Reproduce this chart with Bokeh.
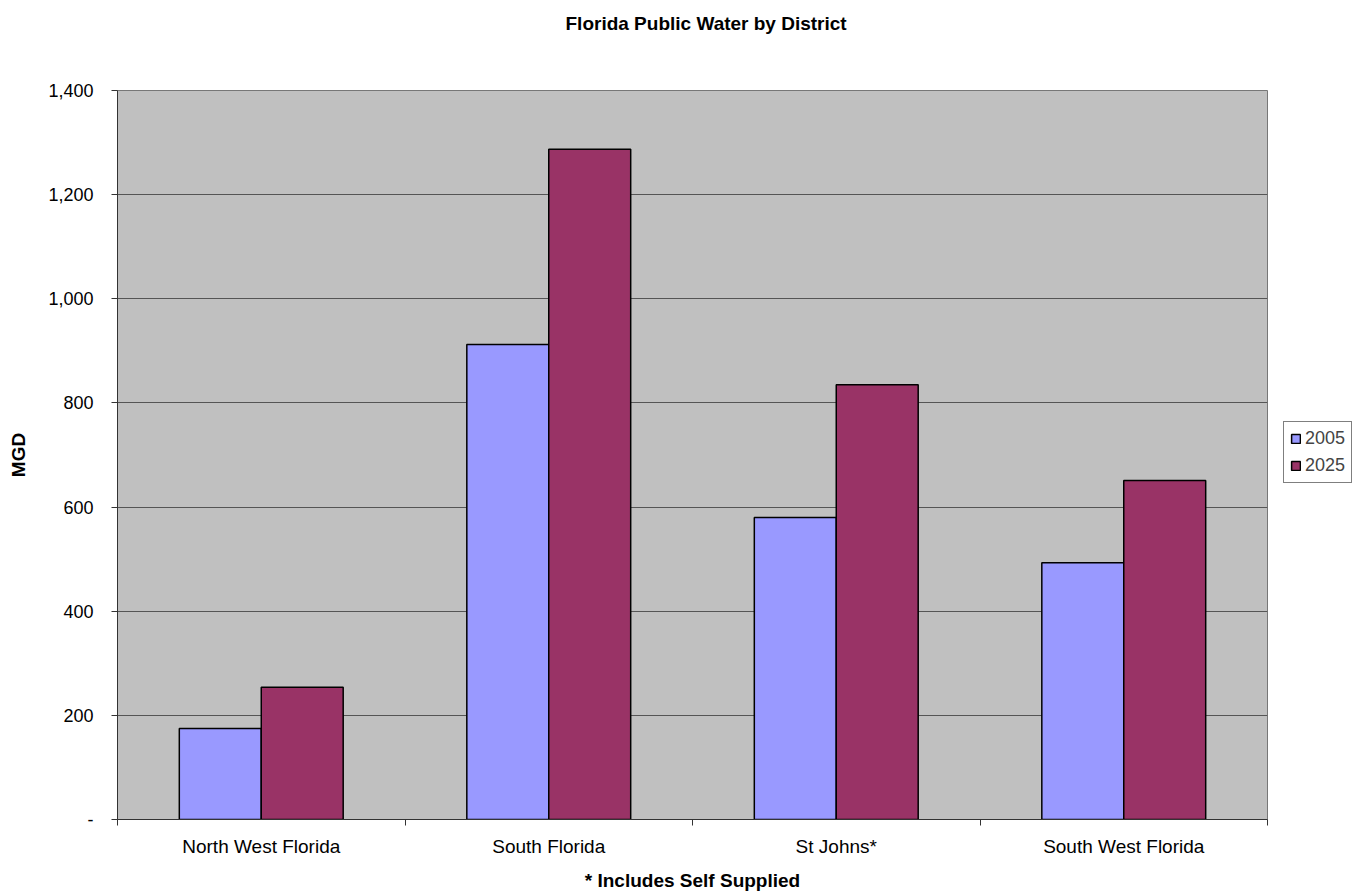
from bokeh.plotting import figure
from bokeh.models import ColumnDataSource, FixedTicker, Legend, LegendItem, Range1d, Title
from bokeh.embed import file_html
from bokeh.resources import INLINE

districts = ["North West Florida", "South Florida", "St Johns*", "South West Florida"]
years = ["2005", "2025"]
values_2005 = [175, 912, 580, 493]
values_2025 = [254, 1287, 835, 651]
y_ticks = [0, 200, 400, 600, 800, 1000, 1200, 1400]
colors = ["#9999FF", "#993366"]

FONT = "Liberation Sans"
FS = "19px"
FS_TICK = "18px"

idx = list(range(len(districts)))
src = ColumnDataSource(dict(
    x05=[i + 0.5 - 0.1425 for i in idx],
    x25=[i + 0.5 + 0.1425 for i in idx],
    v05=values_2005,
    v25=values_2025,
))

p = figure(frame_width=1150, frame_height=729, output_backend="svg", toolbar_location=None,
           x_range=Range1d(0, len(districts)), y_range=Range1d(0, 1400),
           min_border_left=117, min_border_right=99, min_border_top=90, min_border_bottom=75)
p.border_fill_color = "white"

spacer = Title(text=" ", text_font_size="10px", standoff=40)
main_title = Title(text="Florida Public Water by District", align="left", offset=448,
                   text_font=FONT, text_font_style="bold", text_font_size=FS,
                   text_color="black", standoff=8)
p.add_layout(spacer, "above")
p.add_layout(main_title, "above")

r05 = p.vbar(x="x05", top="v05", width=0.285, source=src, fill_color=colors[0],
             line_color="black", line_width=1.5)
r25 = p.vbar(x="x25", top="v25", width=0.285, source=src, fill_color=colors[1],
             line_color="black", line_width=1.5)

# y axis
p.yaxis.ticker = FixedTicker(ticks=y_ticks)
p.yaxis.major_label_overrides = {t: ("-" if t == 0 else f"{t:,}") for t in y_ticks}
p.yaxis.major_label_text_font = FONT
p.yaxis.major_label_text_font_size = FS_TICK
p.yaxis.major_label_text_color = "black"
p.yaxis.major_tick_out = 6
p.yaxis.major_tick_in = 0
p.yaxis.minor_tick_line_color = None
p.yaxis.axis_line_color = "#333333"
p.yaxis.major_tick_line_color = "#333333"
p.yaxis.major_label_standoff = 18
p.yaxis.axis_label = "MGD"
p.yaxis.axis_label_text_font = FONT
p.yaxis.axis_label_text_font_style = "bold"
p.yaxis.axis_label_text_font_size = FS
p.yaxis.axis_label_text_color = "black"
p.yaxis.axis_label_standoff = 16

# x axis
p.xaxis.ticker = FixedTicker(ticks=[i + 0.5 for i in idx], minor_ticks=list(range(len(districts) + 1)))
p.xaxis.major_label_overrides = {i + 0.5: d for i, d in enumerate(districts)}
p.xaxis.major_label_text_font = FONT
p.xaxis.major_label_text_font_size = FS
p.xaxis.major_label_text_color = "black"
p.xaxis.major_tick_out = 0
p.xaxis.major_tick_in = 0
p.xaxis.minor_tick_out = 6
p.xaxis.minor_tick_in = 0
p.xaxis.minor_tick_line_color = "#333333"
p.xaxis.axis_line_color = "#333333"
p.xaxis.major_label_standoff = 10
p.xaxis.axis_label = "* Includes Self Supplied"
p.xaxis.axis_label_text_font = FONT
p.xaxis.axis_label_text_font_style = "bold"
p.xaxis.axis_label_text_font_size = FS
p.xaxis.axis_label_text_color = "black"
p.xaxis.axis_label_standoff = 10

# grid & frame
p.xgrid.grid_line_color = None
p.ygrid.ticker = FixedTicker(ticks=y_ticks)
p.ygrid.grid_line_color = "#555555"
p.ygrid.grid_line_width = 1
p.background_fill_color = "#C0C0C0"
p.outline_line_color = "#777777"
p.outline_line_width = 1

legend = Legend(items=[LegendItem(label=years[0], renderers=[r05]),
                       LegendItem(label=years[1], renderers=[r25])],
                location=(16, 336))
legend.glyph_width = 11
legend.glyph_height = 11
legend.label_text_font = FONT
legend.label_text_font_size = FS_TICK
legend.label_height = 20
legend.label_standoff = 4
legend.padding = 6
legend.spacing = 6
legend.margin = 0
legend.border_line_color = "black"
legend.border_line_width = 1
legend.background_fill_color = "white"
legend.background_fill_alpha = 1
p.add_layout(legend, "right")

open("out.html", "w").write(file_html(p, INLINE))
